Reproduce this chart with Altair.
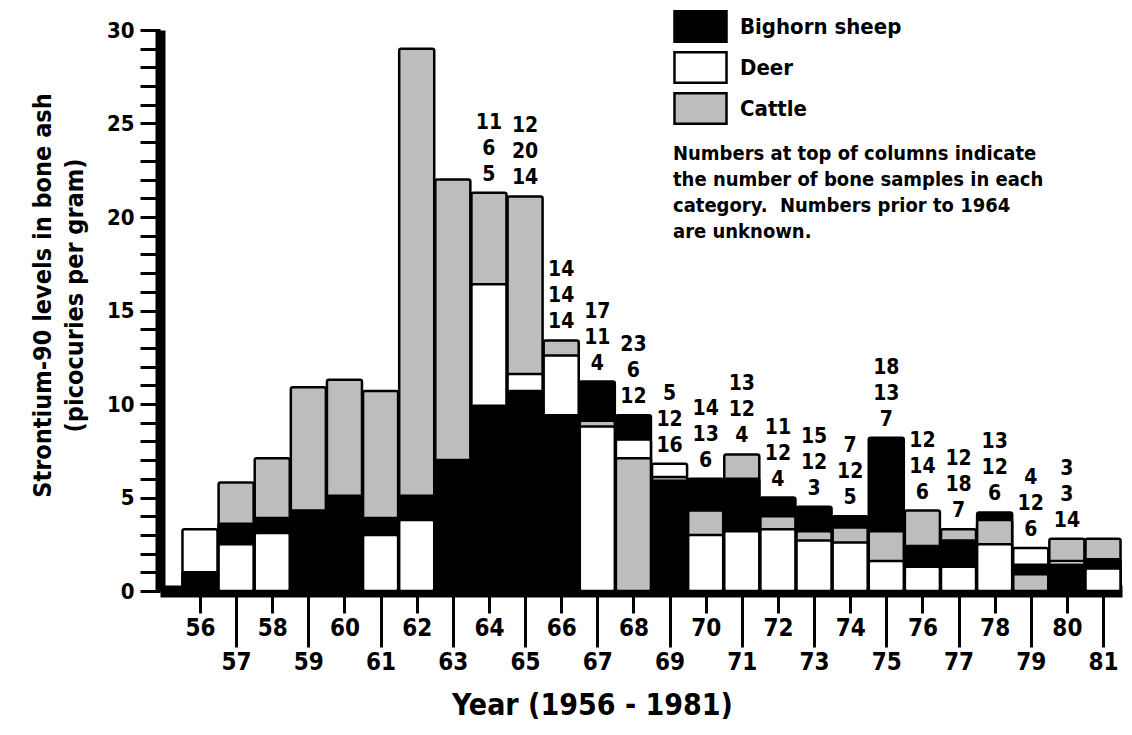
import altair as alt
import pandas as pd

FONT = "'DejaVu Sans Condensed', 'Liberation Sans Narrow', sans-serif"

# ---- data ----
years = list(range(1956, 1982))
sheep = [1.0, 3.6, 3.9, 4.3, 5.1, 3.9, 5.1, 7.0, 9.9, 10.7, 9.4, 11.2, 9.4,
         5.9, 6.0, 6.0, 5.0, 4.5, 4.0, 8.2, 2.4, 2.7, 4.2, 1.4, 1.4, 1.7]
deer = [3.3, 2.5, 3.1, None, None, 3.0, 3.8, None, 16.4, 11.6, 12.6, 8.8, 8.1,
        6.8, 3.0, 3.2, 3.3, 2.7, 2.6, 1.6, 1.3, 1.3, 2.5, 2.3, 1.6, 1.2]
cattle = [None, 5.8, 7.1, 10.9, 11.3, 10.7, 29.0, 22.0, 21.3, 21.1, 13.4, 9.1, 7.1,
          6.1, 4.3, 7.3, 4.0, 3.2, 3.4, 3.2, 4.3, 3.3, 3.8, 0.9, 2.8, 2.8]

even_years = [y for y in years if y % 2 == 0]
odd_years = [y for y in years if y % 2 == 1]

label_years = list(range(1964, 1981))
n_first = [11, 12, 14, 17, 23, 5, 14, 13, 11, 15, 7, 18, 12, 12, 13, 4, 3]
n_second = [6, 20, 14, 11, 6, 12, 13, 12, 12, 12, 12, 13, 14, 18, 12, 12, 3]
n_third = [5, 14, 14, 4, 12, 16, 6, 4, 4, 3, 5, 7, 6, 7, 6, 6, 14]

species = ["Bighorn sheep", "Deer", "Cattle"]
colors = ["black", "white", "#bdbdbd"]

note_lines = [
    "Numbers at top of columns indicate",
    "the number of bone samples in each",
    "category.\u00a0 Numbers prior to 1964",
    "are unknown.",
]

# ---- tables built from the arrays ----
rows = []
for i, yr in enumerate(years):
    entries = []
    for name, series in zip(species, (sheep, deer, cattle)):
        if series[i] is not None:
            entries.append((name, series[i]))
    entries.sort(key=lambda e: -e[1])  # tallest drawn first (behind)
    for k, (name, v) in enumerate(entries):
        rows.append({"year": yr, "species": name, "value": v, "layer": i * 3 + k})
bars_df = pd.DataFrame(rows)

tops = []
for yr in label_years:
    i = years.index(yr)
    tops.append(max(v for v in (sheep[i], deer[i], cattle[i]) if v is not None))
lab_df = pd.DataFrame({"year": label_years, "n1": n_first, "n2": n_second,
                       "n3": n_third, "top": tops})

xscale = alt.Scale(domain=[1954.893, 1981.526], nice=False, zero=False)
yscale = alt.Scale(domain=[0, 30], nice=False, zero=True)

common_x = dict(
    orient="bottom",
    labelExpr="datum.value - 1900",
    tickWidth=3,
    tickColor="black",
    labelPadding=3,
    labelFontSize=24,
    labelFlush=False,
    labelOverlap=False,
    grid=False,
)

xaxis_even = alt.Axis(
    values=even_years,
    tickSize=22,
    domainWidth=12,
    domainColor="black",
    title="Year (1956 - 1981)",
    titleFontSize=30,
    titleX=432,
    titleY=114,
    titleBaseline="middle",
    titleAlign="center",
    **common_x,
)

xaxis_odd = alt.Axis(
    values=odd_years,
    tickSize=56,
    domain=False,
    title=None,
    **common_x,
)

yaxis = alt.Axis(
    orient="left",
    values=list(range(0, 31)),
    labelExpr="datum.value % 5 == 0 ? datum.value : ''",
    tickSize=20,
    tickWidth=3,
    tickColor="black",
    domainWidth=10,
    domainColor="black",
    labelPadding=6,
    labelFontSize=22,
    labelFlush=False,
    labelOverlap=False,
    grid=False,
    title=["Strontium-90 levels in bone ash", "(picocuries per gram)"],
    titleFontSize=25,
    titleLineHeight=32,
    titleAngle=270,
    titleX=-118,
    titleY=265,
    titleAlign="center",
    titleBaseline="middle",
)

legend = alt.Legend(
    title=None,
    orient="none",
    legendX=522,
    legendY=-22,
    symbolType="M-1.53,-0.9H1.53V0.9H-1.53Z",
    symbolSize=1156,
    symbolStrokeColor="black",
    symbolStrokeWidth=2.5,
    symbolOpacity=1,
    labelFont=FONT,
    labelFontSize=22,
    labelFontWeight="bold",
    labelColor="black",
    labelOffset=21,
    labelLimit=0,
    rowPadding=0,
    padding=0,
)

bars = alt.Chart(bars_df).transform_calculate(
    x0="datum.year - 0.485", x1="datum.year + 0.485"
).mark_bar(stroke="black", strokeWidth=2.5, cornerRadius=2, opacity=1).encode(
    x=alt.X("x0:Q", scale=xscale, axis=xaxis_even),
    x2="x1:Q",
    y=alt.Y("value:Q", scale=yscale, stack=None, axis=yaxis),
    y2=alt.datum(0),
    fill=alt.Fill("species:N", scale=alt.Scale(domain=species, range=colors), legend=legend),
    order=alt.Order("layer:Q"),
)


def num_layer(field, dy, xaxis=None):
    return alt.Chart(lab_df).mark_text(
        font=FONT, fontSize=21, fontWeight="bold", baseline="middle",
        align="center", dy=dy, color="black"
    ).encode(
        x=alt.X("year:Q", scale=xscale, axis=xaxis),
        y=alt.Y("top:Q", scale=yscale, axis=None),
        text=alt.Text(f"{field}:N"),
    )


note = alt.Chart(alt.Data(values=[{}])).mark_text(
    align="left", baseline="alphabetic", font=FONT, fontSize=20,
    fontWeight="bold", lineBreak="\n", lineHeight=26, color="black"
).encode(
    x=alt.value(513),
    y=alt.value(130),
    text=alt.value("\n".join(note_lines)),
)

chart = alt.layer(
    bars,
    num_layer("n1", -70),
    num_layer("n2", -44),
    num_layer("n3", -18, xaxis_odd),
    note,
).resolve_axis(x="independent", y="independent").resolve_scale(
    x="shared", y="shared"
).properties(
    width=962,
    height=561,
    padding={"left": 152, "top": 22, "right": 2, "bottom": 136},
    autosize=alt.AutoSizeParams(type="none"),
).configure_view(stroke=None).configure_axis(
    labelFont=FONT, titleFont=FONT, labelFontWeight="bold", titleFontWeight="bold",
    labelColor="black", titleColor="black"
)

chart.save("out.html", embed_options={"renderer": "svg", "actions": False})
